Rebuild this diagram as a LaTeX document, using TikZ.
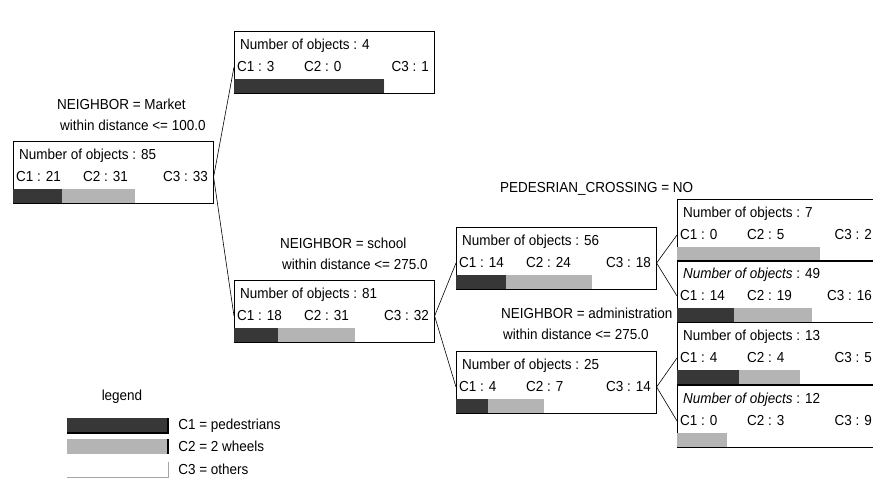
\documentclass[tikz,border=0pt]{standalone}
\usepackage{fontspec}
\setmainfont{Liberation Sans}[FakeStretch=0.93]
\usetikzlibrary{positioning}

\definecolor{cdark}{RGB}{55,55,55}
\definecolor{cgray}{RGB}{180,180,180}

% box of a tree node: name, x, y (top left), title, C1, C2, C3
\newcommand{\objbox}[7]{%
    \node[boxframe] (#1) at (#2,#3) {};
    \fill[cdark] (#2,#3+48) rectangle ({#2+200*#5/(#5+#6+#7)},#3+62);
    \fill[cgray] ({#2+200*#5/(#5+#6+#7)},#3+48) rectangle ({#2+200*(#5+#6)/(#5+#6+#7)},#3+62);
    \node[boxtext] (#1-t) at (#2+6,#3+15) {#4};
    \node[boxtext] (#1-c1) at (#2+3,#3+36) {C1 : #5};
    \node[boxtext] (#1-c2) at (#2+70,#3+36) {C2 : #6};
    \node[boxtext, anchor=east] (#1-c3) at (#2+195,#3+36) {C3 : #7};
    \draw[boxshadow] (#1.north east) -- (#1.south east) -- (#1.south west);
}

\begin{document}
\begin{tikzpicture}[x=1pt, y=-1pt,
        font=\fontsize{14.5}{21}\selectfont,
        boxframe/.style={rectangle, draw=black, line width=0.6pt, anchor=north west, inner sep=0pt, minimum width=200pt, minimum height=62pt},
        boxshadow/.style={draw=black, line width=1.6pt},
        boxtext/.style={anchor=west, inner sep=0pt},
        splittext/.style={anchor=west, inner sep=0pt, align=left},
        swatch/.style={rectangle, inner sep=0pt, minimum width=101pt, minimum height=15pt},
        link/.style={draw=black, line width=0.6pt},
    ]
        \useasboundingbox (0,0) rectangle (873,478);
        \clip (0,0) rectangle (873,478);

        %Nodes
        \objbox{root}{13}{141}{Number of objects : 85}{21}{31}{33}
        \objbox{mkt}{234}{31}{Number of objects : 4}{3}{0}{1}
        \objbox{sch}{234}{280}{Number of objects : 81}{18}{31}{32}
        \objbox{ped}{456}{227}{Number of objects : 56}{14}{24}{18}
        \objbox{adm}{456}{351}{Number of objects : 25}{4}{7}{14}
        \objbox{pedno}{677}{199}{Number of objects : 7}{0}{5}{2}
        \objbox{pedyes}{677}{260}{\textit{Number of objects} : 49}{14}{19}{16}
        \objbox{admno}{677}{322}{Number of objects : 13}{4}{4}{5}
        \objbox{admyes}{677}{385}{\textit{Number of objects} : 12}{0}{3}{9}

        \node[splittext] (lmkt) at (57,115) {NEIGHBOR = Market\\\hspace*{3pt}within distance <= 100.0};
        \node[splittext] (lsch) at (280,254) {NEIGHBOR = school\\\hspace*{2pt}within distance <= 275.0};
        \node[splittext] (ladm) at (501,324) {NEIGHBOR = administration\\\hspace*{2pt}within distance <= 275.0};
        \node[boxtext] (lped) at (500,189) {PEDESRIAN\_CROSSING = NO};

        % legend
        \node[inner sep=0pt] (legtitle) at (122,397) {legend};
        \node[swatch, fill=cdark] (leg1) at (117.5,425.5) {};
        \node[swatch, fill=cgray] (leg2) at (117.5,446.5) {};
        \node[swatch] (leg3) at (117.5,469.5) {};
        \node[boxtext, right=10pt of leg1] (leg1t) {C1 = pedestrians};
        \node[boxtext, right=10pt of leg2] (leg2t) {C2 = 2 wheels};
        \node[boxtext, right=10pt of leg3] (leg3t) {C3 = others};
        \draw[boxshadow] (leg1.north east) -- (leg1.south east) -- (leg1.south west);
        \draw[boxshadow] (leg2.north east) -- (leg2.south east);
        \draw[black!35, line width=0.8pt] (leg3.north east) -- (leg3.south east) -- (leg3.south west);

        %Lines
        \draw[link] (root.east |- root-c3.center) -- (mkt.west |- mkt-c1.center);
        \draw[link] (root.east |- root-c3.center) -- (sch.west |- sch-c1.center);
        \draw[link] (sch.east |- sch-c3.center) -- (ped.west |- ped-c1.center);
        \draw[link] (sch.east |- sch-c3.center) -- (adm.west |- adm-c1.center);
        \draw[link] (ped.east |- ped-c3.center) -- (pedno.west |- pedno-c1.center);
        \draw[link] (ped.east |- ped-c3.center) -- (pedyes.west |- pedyes-c1.center);
        \draw[link] (adm.east |- adm-c3.center) -- (admno.west |- admno-c1.center);
        \draw[link] (adm.east |- adm-c3.center) -- (admyes.west |- admyes-c1.center);
    \end{tikzpicture}
\end{document}
